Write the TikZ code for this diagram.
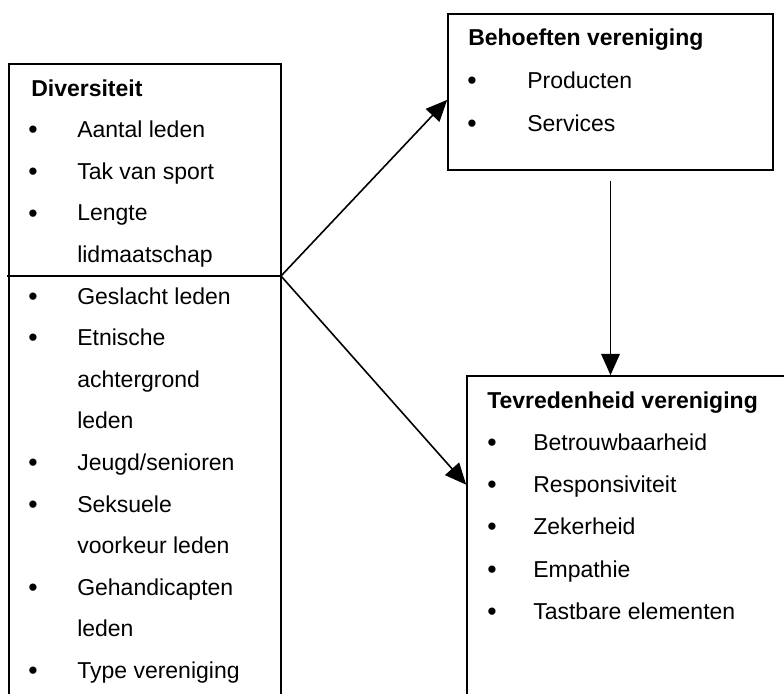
\documentclass[tikz,border=0pt]{standalone}
\usepackage{fontspec}
\setmainfont{Liberation Sans}
\usepackage{tikz}
\usetikzlibrary{arrows.meta,calc,fit}
\definecolor{inkt}{HTML}{000000}
\tikzset{
  kader/.style={draw=inkt,line width=1.25pt,inner sep=0pt,fill=none},
  kop/.style={anchor=base west,inner sep=0pt,text=inkt,font=\fontsize{17.25}{20}\selectfont\bfseries},
  tekst/.style={anchor=base west,inner sep=0pt,text=inkt,font=\fontsize{17.25}{20}\selectfont},
  bol/.style={anchor=base,inner sep=0pt,yshift=-1pt,text=inkt,font=\fontsize{20}{20}\selectfont},
  lijn/.style={draw=inkt,line width=1.2pt},
  pijl/.style={draw=inkt,line width=1.2pt,-{Triangle[length=16pt,width=14pt]}},
}
\begin{document}
\begin{tikzpicture}[x=0.75pt,y=-0.75pt]
  \useasboundingbox (0,0) rectangle (784,693);
  \clip (0,0) rectangle (784,693);
  % kaders
  \node[kader,fit={(9,64) (281,760)}] (div) {};
  \node[kader,fit={(448,14) (773,170)}] (beh) {};
  \node[kader,fit={(467,376) (800,760)}] (tev) {};
  \coordinate (links) at (7,276); \coordinate (splits) at (281,276);
  \draw[lijn] (links) -- (splits);
  % diversiteit
  \node[kop] (divkop) at (31,96.0) {Diversiteit};
  \node[bol] (db1) at (33,137.6) {•}; \node[tekst] (dt1) at (77,137.6) {Aantal leden};
  \node[bol] (db2) at (33,179.2) {•}; \node[tekst] (dt2) at (77,179.2) {Tak van sport};
  \node[bol] (db3) at (33,220.8) {•}; \node[tekst] (dt3) at (77,220.8) {Lengte};
  \node[tekst] (dt4) at (77,262.4) {lidmaatschap};
  \node[bol] (db5) at (33,304.0) {•}; \node[tekst] (dt5) at (77,304.0) {Geslacht leden};
  \node[bol] (db6) at (33,345.6) {•}; \node[tekst] (dt6) at (77,345.6) {Etnische};
  \node[tekst] (dt7) at (77,387.2) {achtergrond};
  \node[tekst] (dt8) at (77,428.8) {leden};
  \node[bol] (db9) at (33,470.4) {•}; \node[tekst] (dt9) at (77,470.4) {Jeugd/senioren};
  \node[bol] (db10) at (33,512.0) {•}; \node[tekst] (dt10) at (77,512.0) {Seksuele};
  \node[tekst] (dt11) at (77,553.6) {voorkeur leden};
  \node[bol] (db12) at (33,595.2) {•}; \node[tekst] (dt12) at (77,595.2) {Gehandicapten};
  \node[tekst] (dt13) at (77,636.8) {leden};
  \node[bol] (db14) at (33,678.4) {•}; \node[tekst] (dt14) at (77,678.4) {Type vereniging};
  % behoeften
  \node[kop] (behkop) at (468,45) {Behoeften vereniging};
  \node[bol] (bb1) at (472,88) {•}; \node[tekst] (bt1) at (527,88) {Producten};
  \node[bol] (bb2) at (472,131) {•}; \node[tekst] (bt2) at (527,131) {Services};
  % tevredenheid
  \node[kop] (tevkop) at (487,408) {Tevredenheid vereniging};
  \node[bol] (tb1) at (492,450) {•}; \node[tekst] (tt1) at (533,450) {Betrouwbaarheid};
  \node[bol] (tb2) at (492,492) {•}; \node[tekst] (tt2) at (533,492) {Responsiviteit};
  \node[bol] (tb3) at (492,534) {•}; \node[tekst] (tt3) at (533,534) {Zekerheid};
  \node[bol] (tb4) at (492,577) {•}; \node[tekst] (tt4) at (533,577) {Empathie};
  \node[bol] (tb5) at (492,619) {•}; \node[tekst] (tt5) at (533,619) {Tastbare elementen};
  % pijlen
  \draw[pijl] (splits) -- ($(beh.north west)!0.55!(beh.south west)$);
  \draw[pijl] (splits) -- ($(tev.north west)!0.284!(tev.south west)$);
  \draw[pijl,shorten <=7.5pt] (beh.south) -- (beh.south |- tev.north);
\end{tikzpicture}
\end{document}
